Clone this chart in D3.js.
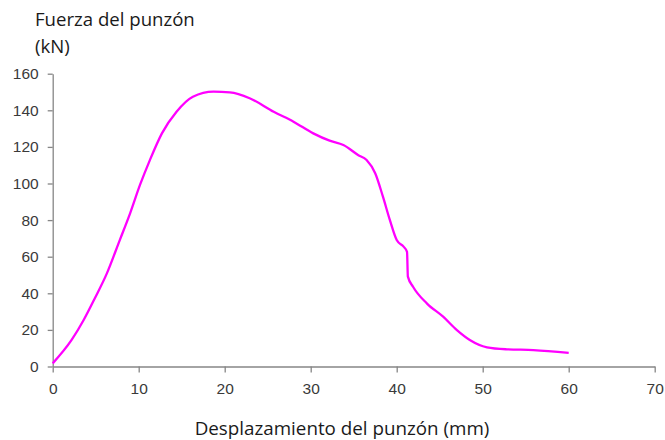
<!DOCTYPE html>
<html>
<head>
<meta charset="utf-8">
<script src="https://cdn.jsdelivr.net/npm/d3@7"></script>
<style>
  body { margin: 0; background: #fff; }
  svg { display: block; }
</style>
</head>
<body>
<svg id="chart" width="665" height="440"></svg>
<script>
// Punch displacement (mm) and punch force (kN)
const displacement = [0, 2.2, 3.6, 4.9, 6.3, 7.8, 9.0, 10.15, 11.3, 12.7, 14.4, 16.3, 18.7, 20.6, 22.9, 25.7, 28.0, 30.3, 32.2, 33.8, 35.5, 36.5, 37.5, 38.4, 39.2, 40.0, 40.8, 41.2, 41.3, 41.9, 43.5, 45.4, 47.0, 48.5, 50.5, 52.8, 55.9, 60.0];
const force = [1.7, 14.5, 25.4, 37.3, 50.9, 69.1, 83.7, 99.2, 112.8, 127.4, 139.2, 147.4, 150.2, 149.8, 146.6, 139.2, 133.8, 127.4, 123.4, 121.0, 115.6, 112.8, 105.6, 92.8, 80.1, 69.1, 65.5, 62.7, 49.1, 43.6, 34.5, 27.2, 19.9, 14.5, 10.5, 9.4, 9.0, 7.5];
const xTicks = [0, 10, 20, 30, 40, 50, 60, 70];
const yTicks = [0, 20, 40, 60, 80, 100, 120, 140, 160];

const svg = d3.select("#chart");
const x = d3.scaleLinear().domain([0, 70]).range([52.7, 654.7]);
const y = d3.scaleLinear().domain([0, 160]).range([366.5, 73.7]);

const axisColor = "#868686";
const tickFont = "'Liberation Sans', Arial, sans-serif";

const xAxis = svg.append("g")
  .attr("transform", `translate(0,${y(0)})`)
  .call(d3.axisBottom(x).tickValues(xTicks).tickSize(6).tickSizeOuter(0).tickPadding(10));
const yAxis = svg.append("g")
  .attr("transform", `translate(${x(0)},0)`)
  .call(d3.axisLeft(y).tickValues(yTicks).tickSize(5).tickSizeOuter(0).tickPadding(9));

[xAxis, yAxis].forEach(g => {
  g.select(".domain").attr("stroke", axisColor).attr("stroke-width", 1.3);
  g.selectAll(".tick line").attr("stroke", axisColor).attr("stroke-width", 1.3);
  g.selectAll(".tick text")
    .attr("fill", "#3a3a3a")
    .style("font-family", tickFont)
    .style("font-size", "15.5px");
});

const line = d3.line()
  .x((d, i) => x(displacement[i]))
  .y(d => y(d))
  .curve(d3.curveMonotoneX);

svg.append("path")
  .datum(force)
  .attr("fill", "none")
  .attr("stroke", "#ff00ff")
  .attr("stroke-width", 2.3)
  .attr("stroke-linejoin", "round")
  .attr("d", line);

const titleFont = "'Open Sans', 'Noto Sans', sans-serif";
svg.append("text")
  .attr("x", 35).attr("y", 26)
  .attr("fill", "#1a1a1a")
  .style("font-family", titleFont).style("font-size", "18.6px")
  .text("Fuerza del punzón");
svg.append("text")
  .attr("x", 35).attr("y", 53)
  .attr("fill", "#1a1a1a")
  .style("font-family", titleFont).style("font-size", "18.6px")
  .text("(kN)");
svg.append("text")
  .attr("x", 342).attr("y", 435)
  .attr("text-anchor", "middle")
  .attr("fill", "#1a1a1a")
  .style("font-family", titleFont).style("font-size", "18.8px")
  .text("Desplazamiento del punzón (mm)");
</script>
</body>
</html>
